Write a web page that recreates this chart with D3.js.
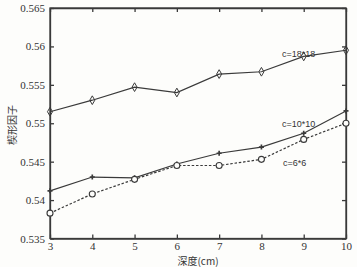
<!DOCTYPE html>
<html lang="zh">
<head>
<meta charset="utf-8">
<title>楔形因子</title>
<script src="https://d3js.org/d3.v7.min.js"></script>
<style>
  body { margin: 0; background: #fdfdfb; }
  .lbl { font-family: "Liberation Sans Narrow", "Liberation Sans", Arial, sans-serif; font-size: 9px; fill: #333; }
  .title { font-family: "Noto Sans CJK SC", sans-serif; font-size: 10px; fill: #333; }
</style>
</head>
<body>
<svg id="chart" width="357" height="267"></svg>
<script>
// depth (cm)
const depths = [3, 4, 5, 6, 7, 8, 9, 10];
// wedge factor per field size
const c18 = [0.5515, 0.5530, 0.5547, 0.5540, 0.5564, 0.5567, 0.5587, 0.5595];
const c10 = [0.5412, 0.5430, 0.5429, 0.5447, 0.5461, 0.5469, 0.5487, 0.5516];
const c6  = [0.5383, 0.5408, 0.5427, 0.5445, 0.5445, 0.5453, 0.5479, 0.5500];
const yTicks = [0.535, 0.54, 0.545, 0.55, 0.555, 0.56, 0.565];

const svg = d3.select("#chart");
const m = {l: 50, r: 346, t: 8, b: 238.5};
const ink = "#3a3a3a";

const x = d3.scaleLinear().domain([3, 10]).range([m.l, m.r]);
const y = d3.scaleLinear().domain([0.535, 0.565]).range([m.b, m.t]);

// axes (MATLAB style box, ticks inward)
svg.append("g").attr("transform", `translate(0,${m.b})`)
  .call(d3.axisBottom(x).tickValues(depths).tickSizeInner(-4).tickSizeOuter(0).tickPadding(4).tickFormat(d3.format("d")));
svg.append("g").attr("transform", `translate(0,${m.t})`)
  .call(d3.axisTop(x).tickValues(depths).tickSizeInner(-4).tickSizeOuter(0).tickFormat(""));
svg.append("g").attr("transform", `translate(${m.l},0)`)
  .call(d3.axisLeft(y).tickValues(yTicks).tickSizeInner(-4).tickSizeOuter(0).tickPadding(5).tickFormat(d => String(+d.toFixed(3))));
svg.append("g").attr("transform", `translate(${m.r},0)`)
  .call(d3.axisRight(y).tickValues(yTicks).tickSizeInner(-4).tickSizeOuter(0).tickFormat(""));
svg.selectAll(".domain, .tick line").attr("stroke", ink).attr("stroke-width", 1.3);
svg.selectAll(".tick text")
  .style("font-family", "'Liberation Serif', 'DejaVu Serif', serif")
  .style("font-size", "11px").style("fill", "#333");
svg.append("rect").attr("x", m.l).attr("y", m.t).attr("width", m.r - m.l).attr("height", m.b - m.t)
  .attr("fill", "none").attr("stroke", ink).attr("stroke-width", 1.3);

const line = d3.line().x((d, i) => x(depths[i])).y(d => y(d));

// c=18*18 solid, diamond markers
svg.append("path").datum(c18).attr("d", line).attr("fill", "none").attr("stroke", ink).attr("stroke-width", 1.2);
svg.selectAll(".dia").data(c18).enter().append("path")
  .attr("transform", (d, i) => `translate(${x(depths[i])},${y(d)})`)
  .attr("d", d3.symbol(d3.symbolDiamond, 22)())
  .attr("fill", "none").attr("stroke", ink).attr("stroke-width", 1);

// c=10*10 solid, plus markers
svg.append("path").datum(c10).attr("d", line).attr("fill", "none").attr("stroke", ink).attr("stroke-width", 1.2);
svg.selectAll(".plus").data(c10).enter().append("path")
  .attr("transform", (d, i) => `translate(${x(depths[i])},${y(d)})`)
  .attr("d", d3.symbol(d3.symbolCross, 14)())
  .attr("fill", ink);

// c=6*6 dotted, circle markers
svg.append("path").datum(c6).attr("d", line).attr("fill", "none").attr("stroke", ink)
  .attr("stroke-width", 1.2).attr("stroke-dasharray", "2.5,1.8");
svg.selectAll(".circ").data(c6).enter().append("circle")
  .attr("cx", (d, i) => x(depths[i])).attr("cy", d => y(d)).attr("r", 3)
  .attr("fill", "#fdfdfb").attr("stroke", ink).attr("stroke-width", 1.1);

// series labels
svg.append("text").attr("class", "lbl").attr("x", 282).attr("y", 57).text("c=18*18");
svg.append("text").attr("class", "lbl").attr("x", 282).attr("y", 127).text("c=10*10");
svg.append("text").attr("class", "lbl").attr("x", 283).attr("y", 166).text("c=6*6");

// axis titles
svg.append("text").attr("class", "title").attr("x", 198).attr("y", 265).attr("text-anchor", "middle").text("深度(cm)");
svg.append("text").attr("class", "title").attr("transform", "translate(16,125) rotate(-90)")
  .attr("text-anchor", "middle").text("楔形因子");
</script>
</body>
</html>
